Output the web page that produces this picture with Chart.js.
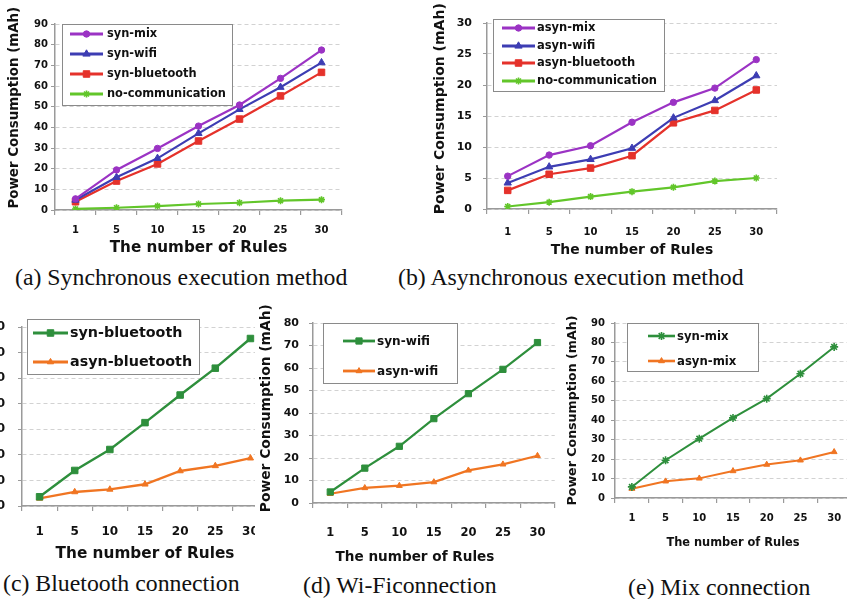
<!DOCTYPE html>
<html>
<head>
<meta charset="utf-8">
<script src="https://cdn.jsdelivr.net/npm/chart.js@4.4.1/dist/chart.umd.min.js"></script>
<style>
  body { margin: 0; background: #fff; }
  #fig { position: relative; width: 847px; height: 599px; overflow: hidden; background: #fff; }
  .clip { position: absolute; overflow: hidden; }
  .clip canvas { position: absolute; }
  .cap { position: absolute; font-family: "Liberation Serif", "DejaVu Serif", serif; font-size: 23.8px; color: #111; white-space: nowrap; line-height: 28px; }
</style>
</head>
<body>
<div id="fig">
  <div class="cap" style="left:15px;top:263px">(a) Synchronous execution method</div>
  <div class="cap" style="left:398px;top:263px">(b) Asynchronous execution method</div>
  <div class="cap" style="left:3px;top:569px">(c) Bluetooth connection</div>
  <div class="cap" style="left:303px;top:571px">(d) Wi-Ficonnection</div>
  <div class="cap" style="left:628px;top:573px">(e) Mix connection</div>
</div>
<script>
// x categories shared by all panels
const rules = ["1", "5", "10", "15", "20", "25", "30"];

// (a) synchronous execution
const synMix = [5.4, 19.4, 29.8, 40.6, 50.8, 63.7, 77.4];
const synWifi = [4.8, 15.8, 25.0, 37.1, 48.7, 59.4, 71.3];
const synBluetooth = [4.0, 14.0, 22.3, 33.4, 44.0, 55.2, 66.6];
const synNoComm = [0.5, 1.1, 1.9, 2.9, 3.5, 4.5, 5.0];

// (b) asynchronous execution
const asynMix = [5.3, 8.7, 10.2, 14.0, 17.2, 19.5, 24.1];
const asynWifi = [4.2, 6.8, 8.0, 9.8, 14.7, 17.5, 21.5];
const asynBluetooth = [3.0, 5.6, 6.6, 8.6, 13.9, 15.9, 19.2];
const asynNoComm = [0.4, 1.1, 2.0, 2.8, 3.5, 4.5, 5.0];

// (c) bluetooth, (d) wifi, (e) mix
const btSyn = [3.6, 13.9, 22.1, 32.6, 43.4, 53.9, 65.5];
const btAsyn = [3.0, 5.5, 6.5, 8.5, 13.7, 15.7, 18.7];
const wifiSyn = [4.9, 15.5, 25.2, 37.5, 48.6, 59.4, 71.3];
const wifiAsyn = [4.1, 6.7, 7.7, 9.3, 14.5, 17.2, 21.0];
const mixSyn = [5.7, 19.4, 30.5, 41.2, 51.1, 63.9, 77.7];
const mixAsyn = [4.8, 8.6, 10.1, 13.9, 17.2, 19.4, 23.7];

// y axis ranges
const yMaxA = 90, yMaxB = 30, yMaxC = 70, yMaxD = 80, yMaxE = 90;

const PURPLE = "#9b33c4", BLUE = "#3d3db3", RED = "#e5322b", LIME = "#62c62a";
const GREEN = "#2e8f3c", ORANGE = "#f07522";
const AXIS = "#9a9a9a", GRID = "#d2d2d2", TEXT = "#111";
const FONT = "'DejaVu Sans', Verdana, sans-serif";
const NB = "\u00a0";

function ds(label, data, color, style, radius, width) {
  return {
    label, data,
    borderColor: color, backgroundColor: color,
    pointBackgroundColor: color, pointBorderColor: color,
    pointStyle: style, pointRadius: radius, pointBorderWidth: style === "star" ? 1.6 : 1,
    borderWidth: width || 2.2, tension: 0, fill: false
  };
}

// legend drawn inside the plot with a frame
const boxLegend = {
  id: "boxLegend",
  afterDraw(chart, args, o) {
    const ctx = chart.ctx;
    ctx.save();
    ctx.fillStyle = "#fff";
    ctx.strokeStyle = "#8a8a8a";
    ctx.lineWidth = 1;
    ctx.fillRect(o.x, o.y, o.w, o.h);
    ctx.strokeRect(o.x + 0.5, o.y + 0.5, o.w, o.h);
    chart.data.datasets.forEach((d, i) => {
      const y = o.rows[i];
      ctx.strokeStyle = d.borderColor;
      ctx.lineWidth = d.borderWidth + 0.6;
      ctx.beginPath();
      ctx.moveTo(o.x1, y);
      ctx.lineTo(o.x2, y);
      ctx.stroke();
      ctx.fillStyle = d.borderColor;
      ctx.lineWidth = d.pointBorderWidth;
      Chart.helpers.drawPoint(ctx, { pointStyle: d.pointStyle, radius: d.pointRadius, borderWidth: d.pointBorderWidth, rotation: 0 }, (o.x1 + o.x2) / 2, y);
      ctx.fillStyle = TEXT;
      ctx.font = "bold " + o.font + "px " + FONT;
      ctx.textBaseline = "middle";
      ctx.textAlign = "left";
      ctx.fillText(d.label, o.tx, y + 0.5);
    });
    ctx.restore();
  }
};

function panel(p) {
  const fig = document.getElementById("fig");
  const clip = document.createElement("div");
  clip.className = "clip";
  clip.style.left = p.clip[0] + "px";
  clip.style.top = p.clip[1] + "px";
  clip.style.width = p.clip[2] + "px";
  clip.style.height = p.clip[3] + "px";
  const cv = document.createElement("canvas");
  cv.width = p.W; cv.height = p.H;
  cv.style.width = p.W + "px"; cv.style.height = p.H + "px";
  cv.style.left = (p.cx - p.clip[0]) + "px";
  cv.style.top = (p.cy - p.clip[1]) + "px";
  clip.appendChild(cv);
  fig.appendChild(clip);

  const [l, t, r, b] = p.area;
  const tick = p.tickFont, title = p.titleFont;
  const tl = 4;
  const lg = p.legend;

  new Chart(cv.getContext("2d"), {
    type: "line",
    data: { labels: rules, datasets: p.datasets },
    options: {
      responsive: false,
      animation: false,
      layout: { padding: { left: 0, top: t - p.cy, right: p.cx + p.W - r, bottom: 0 } },
      plugins: {
        legend: { display: false },
        tooltip: { enabled: false },
        boxLegend: {
          x: lg.box[0] - p.cx, y: lg.box[1] - p.cy, w: lg.box[2], h: lg.box[3],
          rows: lg.rows.map(v => v - p.cy), x1: lg.line[0] - p.cx, x2: lg.line[1] - p.cx,
          tx: lg.tx - p.cx, font: lg.font
        }
      },
      scales: {
        x: {
          type: "category",
          offset: true,
          afterFit: s => { s.height = p.cy + p.H - b; },
          grid: { offset: true, drawOnChartArea: false, drawTicks: true, tickLength: 5, tickColor: AXIS, lineWidth: 1.2 },
          border: { display: true, color: AXIS, width: 1.5 },
          ticks: {
            autoSkip: false, maxRotation: 0, color: TEXT,
            font: { family: FONT, size: tick[1], weight: "bold" },
            padding: p.xLabelY - b - 5 - tick[1] * 0.6
          },
          title: {
            display: true, text: "The number of Rules" + NB.repeat(p.xTitlePad || 0), color: TEXT,
            font: { family: FONT, size: title[1], weight: "bold" },
            padding: { top: 0, bottom: p.cy + p.H - p.xTitleY - title[1] * 0.6 }
          }
        },
        y: {
          min: 0, max: p.yMax,
          afterFit: s => { s.width = l - p.cx; },
          grid: { color: GRID, lineWidth: 1, drawTicks: true, tickLength: tl, tickColor: AXIS, tickBorderDash: [] },
          border: { display: true, color: AXIS, width: 1.5, dash: [4, 3] },
          ticks: {
            stepSize: 10 * (p.yMax === 30 ? 0.5 : 1), color: TEXT,
            font: { family: FONT, size: tick[0], weight: "bold" },
            padding: l - tl - p.yLabelRight
          },
          title: {
            display: true, text: NB.repeat(p.yTitlePad || 0) + "Power Consumption (mAh)", color: TEXT,
            font: { family: FONT, size: title[0], weight: "bold" },
            padding: { top: p.yTitleX - p.cx - title[0] * 0.6, bottom: 0 }
          }
        }
      }
    },
    plugins: [boxLegend]
  });
}

// (a) Synchronous execution method
panel({
  clip: [0, 0, 410, 262], cx: 0, cy: 0, W: 410, H: 262,
  area: [55, 24, 342, 210], yMax: yMaxA,
  tickFont: [10, 10], titleFont: [13.4, 15.2], yTitlePad: 4,
  yTitleX: 14.5, yLabelRight: 48, xLabelY: 230, xTitleY: 248,
  legend: { box: [62, 24, 170, 81], rows: [34, 54, 74, 94], line: [70, 103], tx: 107, font: 11.4 },
  datasets: [
    ds("syn-mix", synMix, PURPLE, "circle", 3.2),
    ds("syn-wifi", synWifi, BLUE, "triangle", 4.2),
    ds("syn-bluetooth", synBluetooth, RED, "rect", 4.6),
    ds("no-communication", synNoComm, LIME, "star", 3.5)
  ]
});

// (b) Asynchronous execution method
panel({
  clip: [410, 0, 437, 262], cx: 420, cy: 0, W: 427, H: 262,
  area: [487, 23, 777, 209], yMax: yMaxB,
  tickFont: [11, 10], titleFont: [14, 13.9], yTitlePad: 3,
  yTitleX: 440, yLabelRight: 472, xLabelY: 232, xTitleY: 250,
  legend: { box: [493, 19, 171, 72], rows: [28, 46, 63, 81], line: [502, 535], tx: 537, font: 11.5 },
  datasets: [
    ds("asyn-mix", asynMix, PURPLE, "circle", 3.2),
    ds("asyn-wifi", asynWifi, BLUE, "triangle", 4.2),
    ds("asyn-bluetooth", asynBluetooth, RED, "rect", 4.6),
    ds("no-communication", asynNoComm, LIME, "star", 3.5)
  ]
});

// (c) Bluetooth connection (cut at both sides in the figure)
panel({
  clip: [0, 300, 255, 270], cx: -50, cy: 300, W: 330, H: 268,
  area: [22, 327, 268, 506], yMax: yMaxC,
  tickFont: [12, 12], titleFont: [14, 15.3],
  yTitleX: -40, yLabelRight: 5, xLabelY: 532, xTitleY: 554,
  legend: { box: [27, 319, 172, 55], rows: [333, 362], line: [33, 68], tx: 70, font: 14.3 },
  datasets: [
    ds("syn-bluetooth", btSyn, GREEN, "rect", 4.6, 2.4),
    ds("asyn-bluetooth", btAsyn, ORANGE, "triangle", 3.6, 2.4)
  ]
});

// (d) Wi-Fi connection
panel({
  clip: [258, 300, 306, 270], cx: 258, cy: 300, W: 306, H: 270,
  area: [313, 323, 558, 503], yMax: yMaxD,
  tickFont: [11, 11.5], titleFont: [13.8, 13.6], yTitlePad: 2, xTitlePad: 8,
  yTitleX: 266, yLabelRight: 299, xLabelY: 533, xTitleY: 557,
  legend: { box: [323, 323, 134, 60], rows: [341, 371], line: [343, 375], tx: 377, font: 12.1 },
  datasets: [
    ds("syn-wifi", wifiSyn, GREEN, "rect", 4.4, 2.2),
    ds("asyn-wifi", wifiAsyn, ORANGE, "triangle", 3.4, 2.2)
  ]
});

// (e) Mix connection
panel({
  clip: [560, 300, 287, 262], cx: 560, cy: 300, W: 300, H: 262,
  area: [615, 323, 851, 498], yMax: yMaxE,
  tickFont: [10, 10], titleFont: [12.6, 11.4],
  yTitleX: 573, yLabelRight: 605, xLabelY: 518, xTitleY: 543,
  legend: { box: [627, 323, 131, 48], rows: [336, 361], line: [648, 675], tx: 677, font: 11.7 },
  datasets: [
    ds("syn-mix", mixSyn, GREEN, "star", 4, 2),
    ds("asyn-mix", mixAsyn, ORANGE, "triangle", 3.4, 2)
  ]
});
</script>
</body>
</html>
